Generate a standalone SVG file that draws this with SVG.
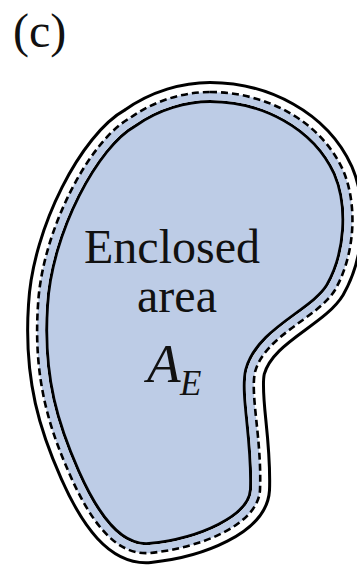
<svg xmlns="http://www.w3.org/2000/svg" width="357" height="570" viewBox="0 0 357 570">
<style>
.t{font-family:"Liberation Serif","Times New Roman",serif;fill:#111}
</style>
<defs>
<path id="c" d="M 210 92 C 265 92 320 120 343 170 C 358 205 355 255 335 290 C 318 318 265 335 255 372 C 250 395 262 440 260 490 C 258 525 200 548 150 553 C 115 556 90 520 70 475 C 50 430 33 380 38 305 C 42 230 90 140 130 118 C 155 100 185 92 210 92 Z"/>
<clipPath id="inside"><use href="#c"/></clipPath>
</defs>
<rect width="357" height="570" fill="#fff"/>
<g id="region">
<use href="#c" fill="#bdcce6" stroke="#000" stroke-width="22"/>
<use href="#c" fill="none" stroke="#fff" stroke-width="16"/>
<use href="#c" fill="none" stroke="#bdcce6" stroke-width="16" clip-path="url(#inside)"/>
<use href="#c" fill="none" stroke="#000" stroke-width="2.6" stroke-dasharray="7 4"/>
</g>
<g id="labels">
<text class="t" x="13" y="47" font-size="48">(c)</text>
<text class="t" x="172" y="263" font-size="48" text-anchor="middle">Enclosed</text>
<text class="t" x="177" y="312" font-size="48" text-anchor="middle">area</text>
<text class="t" x="147" y="382" font-size="55" font-style="italic">A</text>
<text class="t" x="180" y="395" font-size="35" font-style="italic">E</text>
</g>
</svg>
